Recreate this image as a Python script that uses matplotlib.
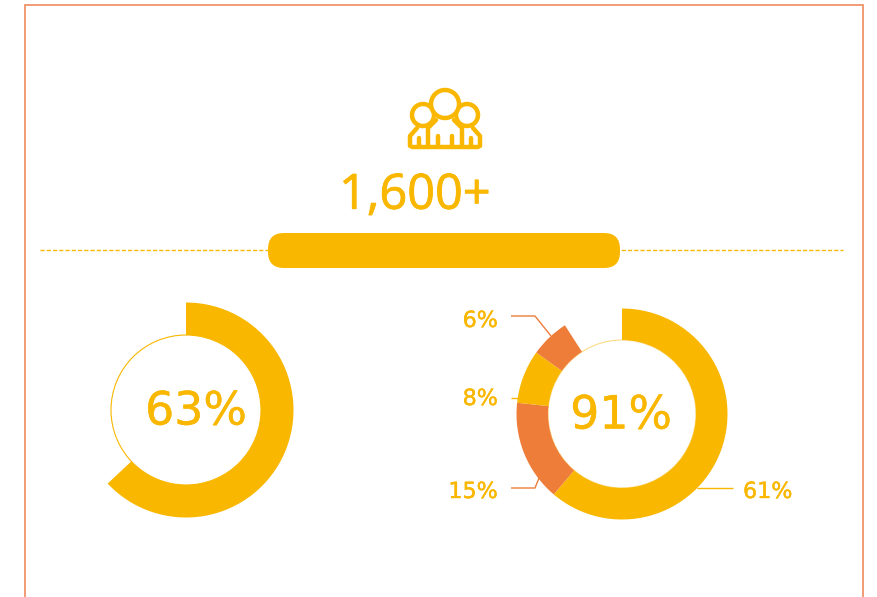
#!/usr/bin/env python

import matplotlib
matplotlib.use('Agg')
import matplotlib.pyplot as plt
import matplotlib.patheffects as pe
from matplotlib.patches import Circle, FancyBboxPatch, Rectangle

W, H = 878, 597
YELLOW = '#F9B700'
ORANGE = '#EF7D3A'
BORDER = '#F0946A'

# left donut
leftValue = 63
leftRest = 37

# right donut, sizes as drawn and the labels printed next to them
rightSizes = [61.2, 15.5, 8.2, 6.0, 9.1]
rightColors = [YELLOW, ORANGE, YELLOW, ORANGE, 'none']
rightLabels = ['61%', '15%', '8%', '6%']
rightTotal = '91%'
headline = '1,600+'

plt.rcParams['font.family'] = ['DejaVu Sans']


def py(y):
  # picture rows run downward, the axes run upward
  return H - y


def donut(ax, sizes, colors, cx, cy, outer, inner, rim):
  ax.add_patch(Circle((cx, py(cy)), inner, fc='white', ec=rim, lw=0.8, zorder=1))
  wedges, _ = ax.pie(sizes, colors=colors, center=(cx, py(cy)), radius=outer, startangle=90,
                     counterclock=False, frame=True,
                     wedgeprops=dict(width=outer - inner, linewidth=0))
  for w in wedges:
    w.set_zorder(2)


def leader(ax, xs, ys, color):
  ax.plot(xs, [py(y) for y in ys], color=color, lw=1.0, zorder=1, solid_capstyle='butt')


def stroke(ax, x, y, s, size, width, **kw):
  # the original lettering is heavier than the regular weight
  t = ax.text(x, py(y), s, color=YELLOW, fontsize=size, va='center', **kw)
  t.set_path_effects([pe.withStroke(linewidth=width, foreground=YELLOW)])
  return t


def people(ax):
  # the group icon above the headline
  lw = 3.2
  line = dict(color=YELLOW, lw=lw, solid_capstyle='round', solid_joinstyle='round')
  for cx in [423, 467]:
    ax.add_patch(Circle((cx, py(115)), 11, fc='white', ec=YELLOW, lw=lw, zorder=3))
  # outer figures
  ax.plot([410, 410, 417], [py(y) for y in [146, 136, 128]], zorder=4, **line)
  ax.plot([480, 480, 473], [py(y) for y in [146, 136, 128]], zorder=4, **line)
  ax.plot([419, 419], [py(138), py(146)], zorder=4, **line)
  ax.plot([471, 471], [py(138), py(146)], zorder=4, **line)
  # middle figure, white body hides the side heads
  ax.fill([428, 428, 436, 454, 462, 462], [py(y) for y in [147, 128, 118, 118, 128, 147]],
          color='white', zorder=5)
  ax.plot([428, 428, 436], [py(y) for y in [146, 128, 120]], zorder=6, **line)
  ax.plot([462, 462, 454], [py(y) for y in [146, 128, 120]], zorder=6, **line)
  ax.plot([438, 438], [py(136), py(146)], zorder=6, **line)
  ax.plot([452, 452], [py(136), py(146)], zorder=6, **line)
  ax.add_patch(Circle((445, py(104)), 14, fc='white', ec=YELLOW, lw=lw, zorder=7))
  ax.plot([412, 478], [py(147), py(147)], zorder=7, **line)


def main():
  fig = plt.figure(figsize=(W / 100, H / 100), dpi=100)
  ax = fig.add_axes([0, 0, 1, 1])

  donut(ax, [leftValue, leftRest], [YELLOW, 'none'], 186, 410, 107.5, 75, YELLOW)
  donut(ax, rightSizes, rightColors, 622, 414, 105.5, 74, '#FBDB85')

  ax.set_frame_on(False)
  ax.set_xlim(0, W)
  ax.set_ylim(0, H)
  ax.set_aspect('equal')
  ax.set_xticks([])
  ax.set_yticks([])

  # border runs off the bottom of the picture
  ax.add_patch(Rectangle((25, py(640)), 838, 635, fc='none', ec=BORDER, lw=1.3, zorder=0))

  # divider and pill
  ax.plot([40, 843], [py(250), py(250)], color=YELLOW, lw=1.0, ls=(0, (3, 1.5)), zorder=1)
  ax.add_patch(FancyBboxPatch((268, py(268)), 352, 35, boxstyle='round,pad=0,rounding_size=16',
                              fc=YELLOW, ec='none', zorder=2))

  people(ax)

  stroke(ax, 415, 196, headline, 35, 0.6, ha='center', family=['Open Sans', 'DejaVu Sans'])
  stroke(ax, 196, 412, '%d%%' % leftValue, 33, 0.3, ha='center')
  stroke(ax, 621, 416, rightTotal, 33, 0.3, ha='center')

  leader(ax, [511, 535, 551], [316, 316, 336], ORANGE)
  leader(ax, [511, 519], [398, 398], YELLOW)
  leader(ax, [511, 535, 539], [488, 488, 478], ORANGE)
  leader(ax, [697, 733], [488, 488], YELLOW)

  stroke(ax, 498, 321, rightLabels[3], 16, 0.3, ha='right')
  stroke(ax, 498, 399, rightLabels[2], 16, 0.3, ha='right')
  stroke(ax, 498, 492, rightLabels[1], 16, 0.3, ha='right')
  stroke(ax, 743, 492, rightLabels[0], 16, 0.3, ha='left')

  fig.savefig('out.png', dpi=100, facecolor='white')


if __name__ == '__main__':
  main()
